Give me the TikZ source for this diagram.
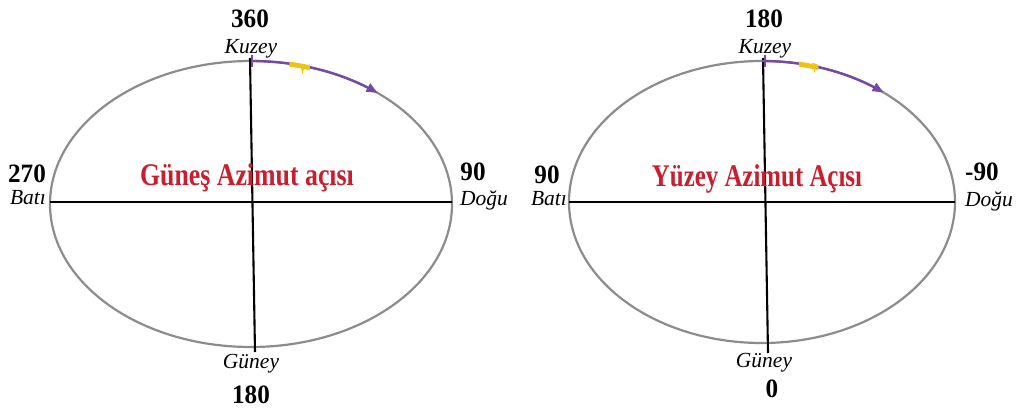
\documentclass[tikz,border=0pt]{standalone}
\usepackage{fontspec}
\setmainfont{Liberation Serif}
\newfontfamily\numf[FakeStretch=0.95]{Liberation Serif}
\newfontfamily\redf[FakeStretch=0.82]{Liberation Serif}
\newfontfamily\redg[FakeStretch=0.79]{Liberation Serif}
\usetikzlibrary{arrows.meta}
\definecolor{ringgray}{RGB}{140,140,140}
\definecolor{arcpurple}{RGB}{118,72,168}
\definecolor{markyellow}{RGB}{236,196,20}
\definecolor{titlered}{RGB}{200,30,45}
\tikzset{
  ring/.style={draw=ringgray, line width=2.2pt},
  axis/.style={draw=black, line width=2.1pt},
  numlbl/.style={anchor=base, inner sep=0pt, font=\numf\bfseries\fontsize{26.5}{26.5}\selectfont},
  dirlbl/.style={anchor=base, inner sep=0pt, font=\itshape\fontsize{21.5}{21.5}\selectfont},
  title/.style={anchor=base, inner sep=0pt, text=titlered, font=\redf\bfseries\fontsize{31.5}{31.5}\selectfont},
  titleb/.style={anchor=base, inner sep=0pt, text=titlered, font=\redg\bfseries\fontsize{31.5}{31.5}\selectfont},
  sunarc/.style={draw=arcpurple, line width=2.4pt, -{Triangle[length=11pt,width=9pt]}},
  starttick/.style={draw=arcpurple, line width=2.6pt},
}
\begin{document}
\begin{tikzpicture}[x=1pt,y=-1pt]
\useasboundingbox (0,0) rectangle (1019,412);
% ---------- left diagram ----------
\draw[ring] (251,204) ellipse [x radius=201, y radius=143];
\coordinate (LW) at (50,202);
\coordinate (LE) at (452,202);
\coordinate (LN) at (250,58);
\coordinate (LS) at (255,352);
\draw[axis] (LW) -- (LE);
\draw[axis] (LN) -- (LS);
\draw[sunarc] plot[domain=90:51, samples=30, smooth] ({251+201*cos(\x)}, {204-143*sin(\x)});
\draw[starttick] (252,55) -- (252,67);
\fill[markyellow] plot[domain=79:73, samples=6] ({251+201*cos(\x)}, {202-143*sin(\x)})
   -- plot[domain=73:79, samples=6] ({251+201*cos(\x)}, {207-143*sin(\x)}) -- cycle;
\fill[markyellow] (300,64) -- (305,65) -- (302.5,74) -- cycle;
\node[numlbl] (l360) at (250,28) {360};
\node[dirlbl] (lkuz) at (251,53) {Kuzey};
\node[numlbl] (l270) at (27,182) {270};
\node[dirlbl] (lbat) at (28,204) {Batı};
\node[numlbl] (l90) at (473,180) {90};
\node[dirlbl] (ldog) at (484,205) {Doğu};
\node[dirlbl] (lgun) at (251,368) {Güney};
\node[numlbl] (l180) at (251,403) {180};
\node[title] (ltitle) at (247,185) {Güneş Azimut açısı};
% ---------- right diagram ----------
\draw[ring] (762,202) ellipse [x radius=193, y radius=141];
\coordinate (RW) at (569,202);
\coordinate (RE) at (955,202);
\coordinate (RN) at (763,58);
\coordinate (RS) at (768,353);
\draw[axis] (RW) -- (RE);
\draw[axis] (RN) -- (RS);
\draw[sunarc] plot[domain=90:51, samples=30, smooth] ({762+193*cos(\x)}, {202-141*sin(\x)});
\draw[starttick] (765,55) -- (765,67);
\fill[markyellow] plot[domain=79:73, samples=6] ({762+193*cos(\x)}, {200-141*sin(\x)})
   -- plot[domain=73:79, samples=6] ({762+193*cos(\x)}, {205-141*sin(\x)}) -- cycle;
\fill[markyellow] (812,63) -- (817,64) -- (814.5,73) -- cycle;
\node[numlbl] (r180) at (764,28) {180};
\node[dirlbl] (rkuz) at (765,53) {Kuzey};
\node[numlbl] (r90) at (547,183) {90};
\node[dirlbl] (rbat) at (549,205) {Batı};
\node[numlbl] (rm90) at (982,180) {-90};
\node[dirlbl] (rdog) at (989,206) {Doğu};
\node[dirlbl] (rgun) at (764,367) {Güney};
\node[numlbl] (r0) at (772,397) {0};
\node[titleb] (rtitle) at (757,186) {Yüzey Azimut Açısı};
\end{tikzpicture}
\end{document}
